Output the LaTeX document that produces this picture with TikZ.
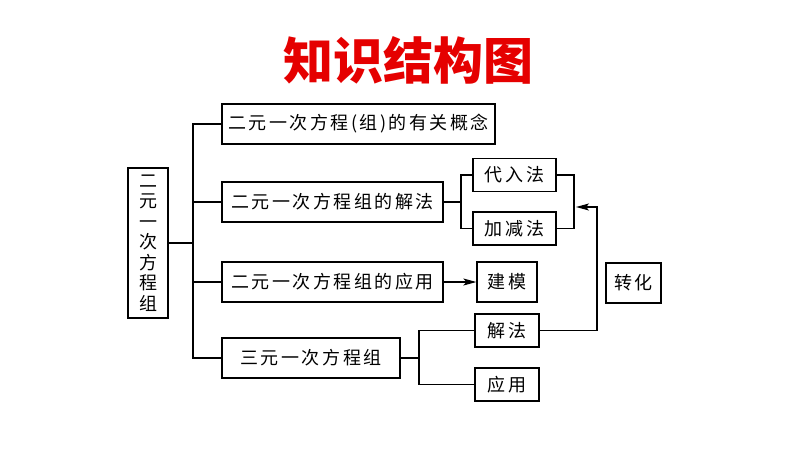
\documentclass[tikz,border=0pt]{standalone}
\usepackage{fontspec}
\setmainfont{Noto Sans CJK SC}
\newfontfamily\boxfont[LetterSpace=14]{Noto Sans CJK SC}
\usetikzlibrary{arrows.meta}

\begin{document}
\begin{tikzpicture}[x=1pt,y=-1pt,
  line width=1.2pt,
  box/.style={draw,line width=1.3pt,inner sep=0pt,minimum height=40pt,
    font=\boxfont\fontsize{18}{20.5}\selectfont},
  smallbox/.style={box,minimum height=33pt},
  conn/.style={line width=1.2pt},
  arr/.style={conn,-{Stealth[length=13pt,width=7pt,inset=3pt]}}]
\useasboundingbox[fill=white] (0,0) rectangle (794,458);

% title
\node[text=red!90!black,font=\bfseries\fontsize{50}{52}\selectfont] (title) at (408,60) {知识结构图};

% left column
\node[box,minimum width=40pt,minimum height=150pt,align=center] (system) at (148,243)
  {二\\元\\一\\次\\方\\程\\组};

% main branches
\node[box,minimum width=273pt] (concept) at (358.5,124) {二元一次方程(组)的有关概念};
\node[box,minimum width=221pt] (solve) at (332.5,202) {二元一次方程组的解法};
\node[box,minimum width=221pt] (apply) at (332.5,282) {二元一次方程组的应用};
\node[box,minimum width=178pt] (three) at (311,358) {三元一次方程组};

% leaves
\node[smallbox,minimum width=83pt] (subst) at (514.5,175) {代入法};
\node[smallbox,minimum width=83pt] (elim) at (514.5,228.5) {加减法};
\node[box,minimum width=60pt] (model) at (507,282) {建模};
\node[box,minimum width=55pt] (convert) at (633.5,283) {转化};
\node[smallbox,minimum width=64pt] (method) at (507,330.5) {解法};
\node[smallbox,minimum width=64pt] (use) at (507,384.5) {应用};

% joints
\coordinate (trunk) at (193,243);
\coordinate (fork) at (461,202);
\coordinate (merge) at (574,202);
\coordinate (tip) at (576,207);
\coordinate (turn) at (597,330.5);
\coordinate (fork2) at (419,358);

% connectors
\draw[conn] (system.east) -- (trunk);
\draw[conn] (concept.west) -- (concept.west -| trunk) |- (three.west);
\draw[conn] (solve.west) -- (solve.west -| trunk);
\draw[conn] (apply.west) -- (apply.west -| trunk);

\draw[conn] (solve.east) -- (fork);
\draw[conn] (subst.west) -| (fork) |- (elim.west);
\draw[conn] (subst.east) -| (merge) |- (elim.east);

\draw[arr] (apply.east) -- (model.west);

\draw[conn] (three.east) -- (fork2);
\draw[conn] (method.west) -| (fork2) |- (use.west);
\draw[arr] (method.east) -- (turn) |- (tip);
\end{tikzpicture}
\end{document}
